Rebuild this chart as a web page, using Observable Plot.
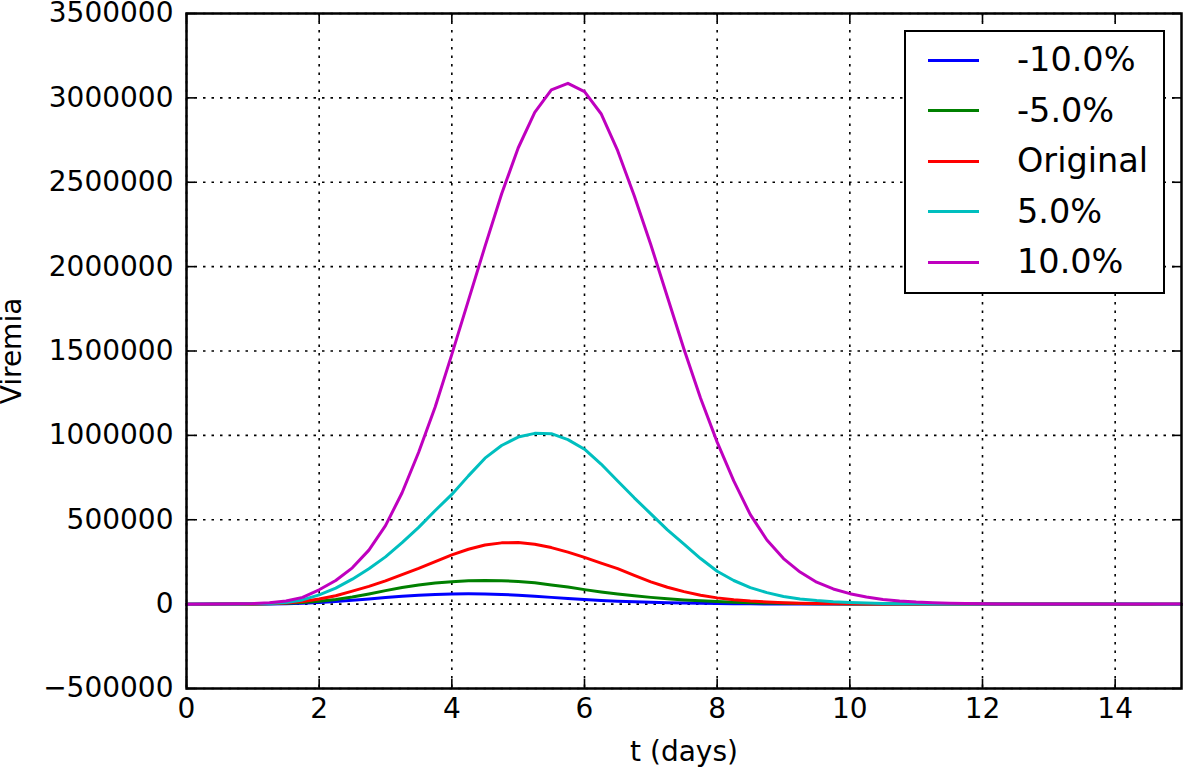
<!DOCTYPE html>
<html>
<head>
<meta charset="utf-8">
<script src="https://cdn.jsdelivr.net/npm/d3@7"></script>
<script src="https://cdn.jsdelivr.net/npm/@observablehq/plot@0.6"></script>
<style>
  html, body { margin: 0; padding: 0; background: #fff; }
  #wrap { position: relative; width: 1183px; height: 769px; font-family: "DejaVu Sans", sans-serif; }
  #legend { position: absolute; left: 904px; top: 30px; width: 257px; height: 260px; border: 2px solid #000; background: #fff; }
  .item { position: absolute; left: 0; height: 40px; display: flex; align-items: center; }
  .swatch { width: 51px; height: 3px; margin-left: 22px; }
  .lab { margin-left: 38px; font-size: 33.5px; color: #000; line-height: 40px; }
</style>
</head>
<body>
<div id="wrap"><div id="legend"></div></div>
<script>
// Time grid (days)
const tDays = [0,0.25,0.5,0.75,1,1.25,1.5,1.75,2,2.25,2.5,2.75,3,3.25,3.5,3.75,4,4.25,4.5,4.75,5,5.25,5.5,5.75,6,6.25,6.5,6.75,7,7.25,7.5,7.75,8,8.25,8.5,8.75,9,9.25,9.5,9.75,10,10.25,10.5,10.75,11,11.25,11.5,11.75,12,12.25,12.5,12.75,13,13.25,13.5,13.75,14,14.25,14.5,14.75,15];

const seriesNames = ["-10.0%", "-5.0%", "Original", "5.0%", "10.0%"];
const seriesColors = ["#0000ff", "#008000", "#ff0000", "#00bfbf", "#bf00bf"];

const minus10 = [0,0,50,200,500,1200,2500,5000,10000,16000,23000,31000,39000,46000,52000,57000,60000,61000,60000,57000,53000,47000,40000,33000,27000,22000,17500,13500,10500,8000,6000,4500,3300,2400,1700,1200,850,600,400,280,190,130,90,60,40,27,18,12,8,5,3,2,1,1,0,0,0,0,0,0,0];
const minus5 = [0,0,80,300,800,2000,4500,9000,17000,28000,42000,60000,80000,98000,113000,125000,133000,138000,140000,139000,134000,126000,114000,101000,86000,72000,60000,49000,40000,32000,25000,19500,15000,11500,8500,6300,4600,3300,2400,1700,1200,850,600,420,290,200,140,95,65,45,30,20,14,10,7,5,3,2,1,1,1];
const original = [0,0,100,400,1200,3000,7000,15000,30000,50000,77000,105000,138000,175000,212000,252000,292000,325000,350000,363000,365000,355000,335000,308000,277000,243000,210000,170000,132000,100000,74000,53000,37000,26000,18000,12500,8500,5700,3800,2500,1650,1100,700,450,300,200,130,85,55,36,24,16,10,7,5,3,2,1,1,0,0];
const plus5 = [0,50,200,600,1500,4000,10000,25000,55000,95000,148000,210000,280000,365000,455000,555000,650000,760000,865000,940000,990000,1012000,1010000,975000,918000,830000,730000,630000,535000,440000,356000,270000,195000,140000,98000,68000,45000,31000,21000,14000,9500,6300,4100,2700,1750,1100,700,450,290,180,115,75,48,30,19,12,8,5,3,2,1];
const plus10 = [0,100,500,1500,3500,8000,18000,40000,85000,140000,215000,320000,465000,660000,900000,1170000,1480000,1800000,2120000,2430000,2703000,2914000,3047000,3086000,3037000,2906000,2687000,2420000,2130000,1820000,1510000,1220000,960000,730000,530000,380000,270000,190000,130000,90000,62000,42000,28000,18500,12000,7700,4900,3100,1950,1200,760,480,300,190,120,75,47,30,19,12,7];

const seriesValues = [minus10, minus5, original, plus5, plus10];

const xTicks = [0, 2, 4, 6, 8, 10, 12, 14];
const yTicks = [-500000, 0, 500000, 1000000, 1500000, 2000000, 2500000, 3000000, 3500000];

const xDomain = [0, 15];
const yDomain = [-500000, 3500000];

// long-format table
const rows = [];
seriesNames.forEach((name, si) => {
  seriesValues[si].forEach((v, i) => rows.push({t: tDays[i], v, series: name}));
});

const W = 1183, H = 769;
const mL = 186, mR = 2, mT = 13, mB = 81;
const tickPx = 9;
const xTickLen = tickPx * (xDomain[1] - xDomain[0]) / (W - mL - mR);
const yTickLen = tickPx * (yDomain[1] - yDomain[0]) / (H - mT - mB);

const fmt = d3.format("d");

const chart = Plot.plot({
  width: W, height: H,
  marginLeft: mL, marginRight: mR, marginTop: mT, marginBottom: mB,
  style: {fontFamily: "DejaVu Sans", fontSize: "28px", color: "#000", background: "#fff"},
  x: {domain: xDomain, ticks: xTicks},
  y: {domain: yDomain, ticks: yTicks},
  color: {domain: seriesNames, range: seriesColors},
  marks: [
    Plot.gridX(xTicks, {stroke: "#000", strokeOpacity: 1, strokeWidth: 1.6, strokeDasharray: "2.5,6"}),
    Plot.gridY(yTicks, {stroke: "#000", strokeOpacity: 1, strokeWidth: 1.6, strokeDasharray: "2.5,6"}),
    Plot.axisX(xTicks, {tickSize: 0, tickPadding: 10, tickFormat: d => String(d), fontSize: 28, label: null}),
    Plot.axisY(yTicks, {tickSize: 0, tickPadding: 13, tickFormat: fmt, fontSize: 28, label: null}),
    // inward ticks on all four sides
    Plot.ruleY(yTicks, {x1: xDomain[0], x2: xDomain[0] + xTickLen, stroke: "#000", strokeWidth: 1.6}),
    Plot.ruleY(yTicks, {x1: xDomain[1] - xTickLen, x2: xDomain[1], stroke: "#000", strokeWidth: 1.6}),
    Plot.ruleX(xTicks, {y1: yDomain[0], y2: yDomain[0] + yTickLen, stroke: "#000", strokeWidth: 1.6}),
    Plot.ruleX(xTicks, {y1: yDomain[1] - yTickLen, y2: yDomain[1], stroke: "#000", strokeWidth: 1.6}),
    Plot.line(rows, {x: "t", y: "v", z: "series", stroke: "series", strokeWidth: 3, curve: "linear"}),
    Plot.frame({stroke: "#000", strokeWidth: 2.5}),
    Plot.text(["t (days)"], {frameAnchor: "bottom", dy: 64, fontSize: 28, lineAnchor: "middle", textAnchor: "middle", fill: "#000"}),
    Plot.text(["Viremia"], {frameAnchor: "left", dx: -174, rotate: -90, fontSize: 28, lineAnchor: "middle", textAnchor: "middle", fill: "#000"})
  ]
});
const wrap = document.getElementById("wrap");
wrap.insertBefore(chart, wrap.firstChild);

// legend built from series arrays
const legend = document.getElementById("legend");
seriesNames.forEach((name, i) => {
  const it = document.createElement("div");
  it.className = "item";
  it.style.top = (8 + i * 50.6) + "px";
  const sw = document.createElement("div");
  sw.className = "swatch";
  sw.style.background = seriesColors[i];
  const lb = document.createElement("div");
  lb.className = "lab";
  lb.textContent = name;
  it.appendChild(sw); it.appendChild(lb);
  legend.appendChild(it);
});
</script>
</body>
</html>
